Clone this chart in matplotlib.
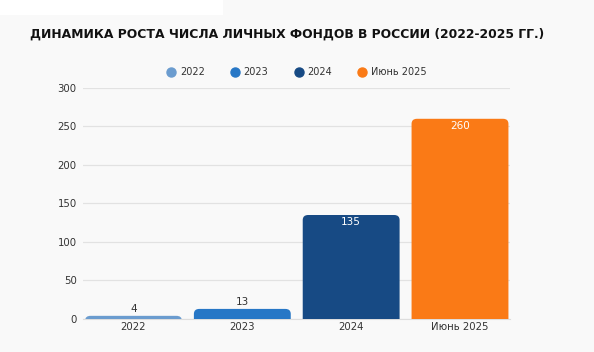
import matplotlib.pyplot as plt
from matplotlib.lines import Line2D
from matplotlib.patches import FancyBboxPatch, Rectangle

CATEGORIES = ["2022", "2023", "2024", "Июнь 2025"]
VALUES = [4, 13, 135, 260]
COLORS = ["#6b9ccf", "#2777c6", "#174a84", "#fa7a16"]
Y_TICKS = [0, 50, 100, 150, 200, 250, 300]
TITLE = "ДИНАМИКА РОСТА ЧИСЛА ЛИЧНЫХ ФОНДОВ В РОССИИ (2022-2025 ГГ.)"

plt.rcParams["font.family"] = ["DejaVu Sans"]

fig = plt.figure(figsize=(5.94, 3.52), dpi=100)
fig.patch.set_facecolor("#f9f9f9")
fig.patches.append(Rectangle((0, 0.957), 0.375, 0.043, transform=fig.transFigure,
                             facecolor="white", edgecolor="none", zorder=0))

ax = fig.add_axes([0.1397, 0.094, 0.719, 0.656])
ax.set_facecolor("#f9f9f9")

x = range(len(CATEGORIES))
bars = ax.bar(x, VALUES, width=0.89, color=COLORS)

# swap plain bars for ones with rounded tops
rx, ry = 0.05, 6.5
for bar, color in zip(bars, COLORS):
    bar.set_visible(False)
    bx, bw, bh = bar.get_x(), bar.get_width(), bar.get_height()
    patch = FancyBboxPatch((bx, -3 * ry), bw, bh + 3 * ry,
                           boxstyle=f"round,pad=0,rounding_size={rx}",
                           mutation_aspect=ry / rx, facecolor=color,
                           edgecolor="none", zorder=3)
    ax.add_patch(patch)

for i, val in enumerate(VALUES):
    if val > 50:
        ax.text(i, val - 3, str(val), ha="center", va="top", fontsize=7.5,
                color="white", zorder=4)
    else:
        ax.text(i, val + 2, str(val), ha="center", va="bottom", fontsize=7.5,
                color="#333333", zorder=4)

ax.set_xlim(-0.464, 3.46)
ax.set_ylim(0, 300)
ax.set_yticks(Y_TICKS)
ax.set_xticks(list(x))
ax.set_xticklabels(CATEGORIES)
ax.tick_params(axis="both", length=0, labelsize=7.3, labelcolor="#333333")
ax.tick_params(axis="y", pad=4.5)
ax.tick_params(axis="x", pad=2)
ax.grid(axis="y", color="#e2e2e2", linewidth=0.9)
ax.set_axisbelow(True)
for side in ["top", "right", "left"]:
    ax.spines[side].set_visible(False)
ax.spines["bottom"].set_color("#dddddd")

fig.text(0.051, 0.902, TITLE, fontsize=8.9, weight="bold", color="#111111",
         va="center")

handles = [Line2D([], [], marker="o", linestyle="none", markersize=6.5,
                  markerfacecolor=c, markeredgecolor=c) for c in COLORS]
fig.legend(handles, CATEGORIES, loc="center", bbox_to_anchor=(0.499, 0.795),
           ncol=4, frameon=False, fontsize=7, handlelength=1.0,
           handletextpad=0.4, columnspacing=2.6, labelcolor="#333333")

fig.savefig("out.png", dpi=100, facecolor=fig.get_facecolor())
